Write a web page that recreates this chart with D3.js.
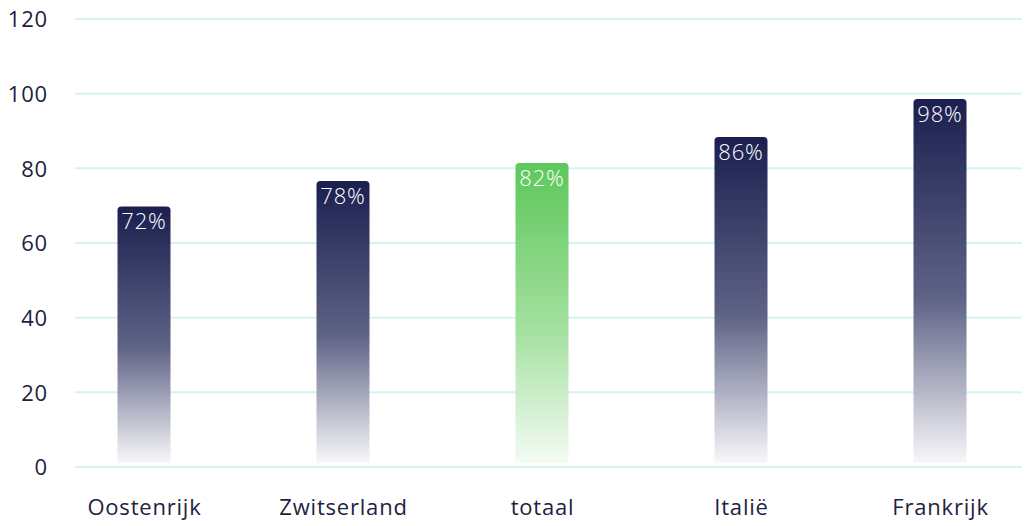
<!DOCTYPE html>
<html>
<head>
<meta charset="utf-8">
<script src="https://d3js.org/d3.v7.min.js"></script>
<style>
    body { margin: 0; background: #fff; }
    svg { font-family: "Open Sans", Lato, sans-serif; }
    .grid line { stroke: #d4f2f4; stroke-width: 2; }
    .axis text { fill: #1d2240; font-size: 22px; font-family: "Open Sans", sans-serif; letter-spacing: 0.8px; }
    .bar-label { fill: #fff; font-size: 22px; font-weight: 300; letter-spacing: 0.8px; }
</style>
</head>
<body>
<svg id="chart" width="1028" height="526"></svg>
<script>
    // data
    var countries = ["Oostenrijk", "Zwitserland", "totaal", "Italië", "Frankrijk"];
    var barHeights = [69.8, 76.6, 81.4, 88.4, 98.6];
    var barLabels = ["72%", "78%", "82%", "86%", "98%"];
    var yTicks = [0, 20, 40, 60, 80, 100, 120];
    var highlight = "totaal";

    var svg = d3.select("#chart");

    var y = d3.scaleLinear()
        .domain([0, 120])
        .range([467, 19]);

    var x = d3.scalePoint()
        .domain(countries)
        .range([144, 940]);

    var barWidth = 53;

    var defs = svg.append("defs");
    function grad(id, top, mid, bottom) {
        var g = defs.append("linearGradient")
            .attr("id", id)
            .attr("x1", 0).attr("y1", 0).attr("x2", 0).attr("y2", 1);
        g.append("stop").attr("offset", "0%").attr("stop-color", top);
        g.append("stop").attr("offset", "55%").attr("stop-color", mid);
        g.append("stop").attr("offset", "100%").attr("stop-color", bottom);
    }
    grad("navy", "#1a1f4f", "#5f6386", "#f8f8fa");
    grad("green", "#5cc85a", "#a3e09e", "#f4fbf3");

    // gridlines
    svg.append("g")
        .attr("class", "grid")
        .selectAll("line")
        .data(yTicks)
        .enter().append("line")
        .attr("x1", 75)
        .attr("x2", 1022)
        .attr("y1", d => y(d))
        .attr("y2", d => y(d));

    // y axis labels
    svg.append("g")
        .attr("class", "axis")
        .attr("transform", "translate(48,0)")
        .call(d3.axisLeft(y).tickValues(yTicks).tickSize(0).tickPadding(0))
        .call(g => g.select(".domain").remove())
        .selectAll("text")
        .attr("dy", "0.35em");

    // x axis labels
    svg.append("g")
        .attr("class", "axis")
        .attr("transform", "translate(0,499)")
        .call(d3.axisBottom(x).tickSize(0).tickPadding(0))
        .call(g => g.select(".domain").remove())
        .selectAll("text")
        .attr("dy", "0.71em");

    // bars with rounded top corners
    function barPath(cx, top, bottom, w, r) {
        var x0 = cx - w / 2, x1 = cx + w / 2;
        return "M" + x0 + "," + bottom +
            "V" + (top + r) +
            "Q" + x0 + "," + top + " " + (x0 + r) + "," + top +
            "H" + (x1 - r) +
            "Q" + x1 + "," + top + " " + x1 + "," + (top + r) +
            "V" + bottom + "Z";
    }

    var bars = svg.append("g")
        .selectAll("g")
        .data(countries)
        .enter().append("g");

    bars.append("path")
        .attr("d", (d, i) => barPath(x(d), y(barHeights[i]), y(0) - 4, barWidth, 4))
        .attr("fill", d => d === highlight ? "url(#green)" : "url(#navy)");

    bars.append("text")
        .attr("class", "bar-label")
        .attr("x", d => x(d))
        .attr("y", (d, i) => y(barHeights[i]) + 23)
        .attr("text-anchor", "middle")
        .text((d, i) => barLabels[i]);
</script>
</body>
</html>
